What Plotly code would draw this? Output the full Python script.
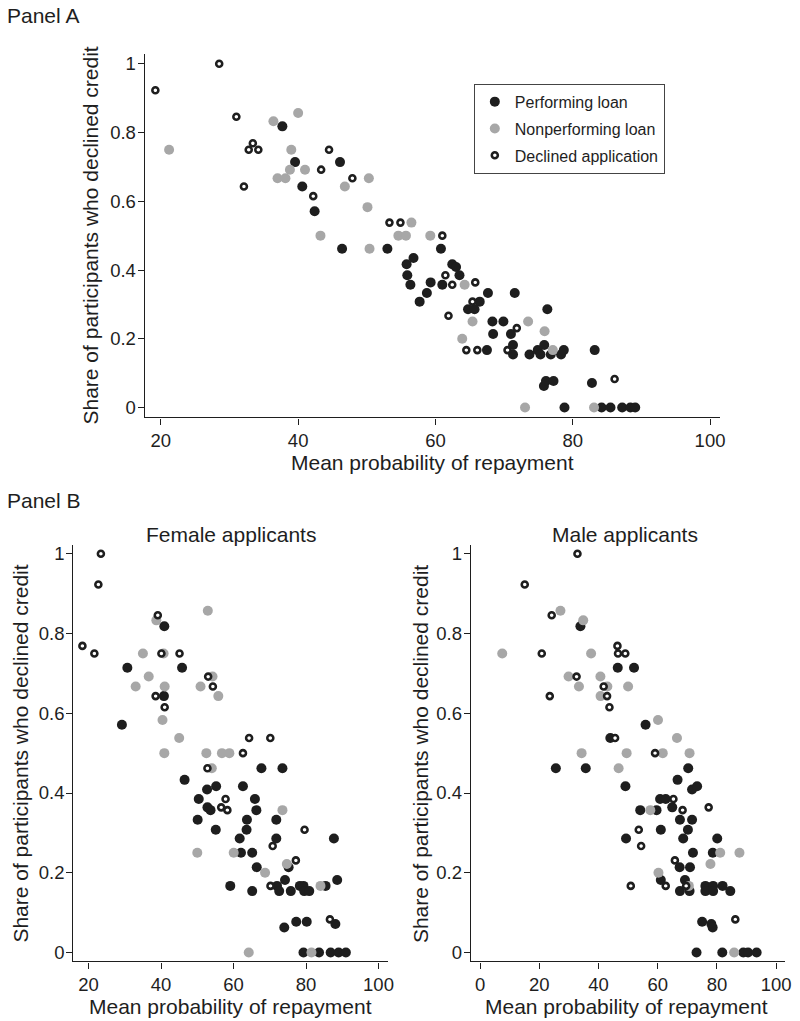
import plotly.graph_objects as go

# ---------------- Panel A (all applicants) ----------------
a_perf_x = [37.7, 39.55, 40.6, 42.4, 46.1, 46.4, 53.0, 60.8, 56.8, 55.8, 55.9, 56.35, 59.3, 58.75, 57.7,
            61.0, 62.45, 63.0, 63.5, 67.65, 66.45, 71.55, 64.75, 65.7, 68.3, 69.9, 76.3, 68.4, 71.0, 67.5,
            71.3, 71.3, 73.7, 74.9, 75.3, 75.85, 76.8, 78.3, 78.7, 83.2, 75.8, 76.1, 77.2, 82.8,
            78.8, 84.2, 85.5, 87.2, 88.4, 89.1]
a_perf_y = [0.818, 0.714, 0.643, 0.571, 0.714, 0.462, 0.462, 0.462, 0.435, 0.417, 0.385, 0.357, 0.364, 0.333, 0.308,
            0.357, 0.417, 0.409, 0.385, 0.333, 0.308, 0.333, 0.286, 0.286, 0.25, 0.25, 0.286, 0.214, 0.214, 0.167,
            0.182, 0.154, 0.154, 0.167, 0.154, 0.182, 0.154, 0.154, 0.167, 0.167, 0.0625, 0.077, 0.077, 0.0714,
            0, 0, 0, 0, 0, 0]

a_nonp_x = [21.2, 36.4, 40.0, 39.0, 38.8, 41.0, 37.0, 38.15, 46.8, 50.3, 50.1, 43.25, 50.4, 56.5, 54.6,
            55.7, 59.25, 64.25, 65.4, 73.5, 63.9, 75.9, 77.1, 73.05, 83.1]
a_nonp_y = [0.75, 0.833, 0.857, 0.75, 0.692, 0.692, 0.667, 0.667, 0.643, 0.667, 0.583, 0.5, 0.462, 0.538, 0.5,
            0.5, 0.5, 0.357, 0.25, 0.25, 0.2, 0.222, 0.167, 0, 0]

a_decl_x = [19.2, 28.5, 31.0, 33.4, 32.8, 34.2, 32.1, 44.5, 43.35, 47.9, 42.2, 53.3, 54.9, 61.0, 61.45,
            62.45, 65.8, 65.4, 61.9, 71.85, 64.5, 66.1, 70.5, 86.1]
a_decl_y = [0.923, 1.0, 0.846, 0.769, 0.75, 0.75, 0.643, 0.75, 0.692, 0.667, 0.615, 0.538, 0.538, 0.5, 0.385,
            0.357, 0.364, 0.308, 0.267, 0.231, 0.167, 0.167, 0.167, 0.083]

# ---------------- Panel B, female applicants ----------------
f_perf_x = [40.9, 30.7, 45.8, 40.8, 29.2, 67.7, 73.5, 46.5, 52.7, 55.2, 62.6, 50.4, 65.9, 52.8, 53.65, 66.3,
            50.1, 63.7, 71.8, 55.1, 63.6, 61.7, 71.8, 87.7, 62.05, 65.15, 66.4, 75.2, 59.1, 72.0, 72.6, 74.2,
            65.15, 75.8, 78.3, 79.3, 79.5, 80.9, 85.4, 88.6, 74.0, 77.3, 80.2, 88.1, 79.3, 83.6, 86.8, 89.0, 91.0]
f_perf_y = [0.818, 0.714, 0.714, 0.643, 0.571, 0.462, 0.462, 0.433, 0.409, 0.417, 0.417, 0.385, 0.385, 0.364, 0.357, 0.357,
            0.333, 0.333, 0.333, 0.308, 0.308, 0.286, 0.286, 0.286, 0.25, 0.25, 0.214, 0.214, 0.167, 0.167, 0.154, 0.182,
            0.154, 0.154, 0.167, 0.167, 0.154, 0.154, 0.167, 0.182, 0.0625, 0.077, 0.077, 0.0714, 0, 0, 0, 0, 0]

f_nonp_x = [52.9, 38.7, 35.0, 40.7, 36.6, 54.2, 33.0, 41.0, 50.9, 55.8, 40.4, 45.0, 40.9, 52.5, 56.8, 58.85,
            54.0, 73.5, 50.0, 60.05, 74.7, 68.7, 84.0, 64.2, 81.5]
f_nonp_y = [0.857, 0.833, 0.75, 0.75, 0.692, 0.692, 0.667, 0.667, 0.667, 0.643, 0.583, 0.538, 0.5, 0.5, 0.5, 0.5,
            0.462, 0.357, 0.25, 0.25, 0.222, 0.2, 0.167, 0, 0]

f_decl_x = [23.4, 22.7, 18.3, 21.6, 39.1, 40.1, 45.1, 53.0, 54.3, 38.5, 41.0, 64.3, 70.15, 62.6, 52.8, 57.8,
            56.6, 58.3, 79.6, 70.8, 77.2, 70.2, 86.6]
f_decl_y = [1.0, 0.923, 0.769, 0.75, 0.846, 0.75, 0.75, 0.692, 0.667, 0.643, 0.615, 0.538, 0.538, 0.5, 0.462, 0.385,
            0.364, 0.357, 0.308, 0.267, 0.231, 0.167, 0.083]

# ---------------- Panel B, male applicants ----------------
m_perf_x = [33.9, 46.5, 52.0, 55.9, 44.0, 25.6, 35.7, 70.3, 66.7, 49.1, 71.6, 73.3, 60.8, 62.7, 54.1, 59.6,
            64.9, 67.5, 71.6, 61.05, 70.2, 49.3, 68.6, 80.1, 71.9, 78.6, 67.4, 70.9, 61.05, 69.2, 67.5, 70.75,
            76.1, 78.7, 76.1, 78.7, 81.9, 84.5, 75.0, 78.1, 78.55, 73.1, 81.8, 88.9, 90.5, 93.4]
m_perf_y = [0.818, 0.714, 0.714, 0.571, 0.538, 0.462, 0.462, 0.462, 0.433, 0.417, 0.409, 0.417, 0.385, 0.385, 0.357, 0.357,
            0.364, 0.333, 0.333, 0.308, 0.308, 0.286, 0.286, 0.286, 0.25, 0.25, 0.214, 0.214, 0.182, 0.182, 0.154, 0.154,
            0.167, 0.167, 0.154, 0.154, 0.167, 0.154, 0.077, 0.0714, 0.0625, 0, 0, 0, 0, 0]

m_nonp_x = [27.15, 34.85, 7.5, 37.5, 29.9, 40.65, 33.4, 43.0, 50.0, 40.7, 60.1, 66.5, 34.3, 49.5, 61.7, 70.75,
            46.8, 57.5, 81.1, 87.6, 77.8, 60.25, 70.5, 85.8]
m_nonp_y = [0.857, 0.833, 0.75, 0.75, 0.692, 0.692, 0.667, 0.667, 0.667, 0.643, 0.583, 0.538, 0.5, 0.5, 0.5, 0.5,
            0.462, 0.357, 0.25, 0.25, 0.222, 0.2, 0.167, 0]

m_decl_x = [32.9, 15.1, 24.2, 20.85, 46.4, 46.6, 49.05, 32.6, 41.75, 23.55, 42.9, 43.7, 45.6, 59.1, 65.3, 68.4,
            77.2, 53.6, 54.4, 65.8, 62.7, 50.9, 69.6, 86.2]
m_decl_y = [1.0, 0.923, 0.846, 0.75, 0.769, 0.75, 0.75, 0.692, 0.667, 0.643, 0.643, 0.615, 0.538, 0.5, 0.385, 0.357,
            0.364, 0.308, 0.267, 0.231, 0.167, 0.167, 0.167, 0.083]

# ---------------- labels / ticks ----------------
series_names = ["Performing loan", "Nonperforming loan", "Declined application"]
y_tickvals = [0, 0.2, 0.4, 0.6, 0.8, 1]
y_ticktext = ["0", "0.2", "0.4", "0.6", "0.8", "1"]
xa_tickvals = [20, 40, 60, 80, 100]
xf_tickvals = [20, 40, 60, 80, 100]
xm_tickvals = [0, 20, 40, 60, 80, 100]
x_title = "Mean probability of repayment"
y_title = "Share of participants who declined credit"

FONT = "Liberation Sans, Arial, Helvetica, sans-serif"
INK = "#1e1e1e"
GRAY = "#a7a7a7"
W, H = 800, 1021

fig = go.Figure()


def add_panel(xs, xa, ya, legend):
    (px, py), (nx, ny), (dx, dy) = xs
    fig.add_trace(go.Scatter(x=px, y=py, mode="markers", name=series_names[0], xaxis=xa, yaxis=ya,
                             legendgroup="g1", showlegend=legend,
                             marker=dict(size=10, color=INK, line=dict(width=0))))
    fig.add_trace(go.Scatter(x=nx, y=ny, mode="markers", name=series_names[1], xaxis=xa, yaxis=ya,
                             legendgroup="g2", showlegend=legend,
                             marker=dict(size=10, color=GRAY, line=dict(width=0))))
    fig.add_trace(go.Scatter(x=dx, y=dy, mode="markers", name=series_names[2], xaxis=xa, yaxis=ya,
                             legendgroup="g3", showlegend=legend,
                             marker=dict(size=6, color="white", line=dict(width=2.6, color=INK))))


add_panel(((a_perf_x, a_perf_y), (a_nonp_x, a_nonp_y), (a_decl_x, a_decl_y)), "x", "y", True)
add_panel(((f_perf_x, f_perf_y), (f_nonp_x, f_nonp_y), (f_decl_x, f_decl_y)), "x2", "y2", False)
add_panel(((m_perf_x, m_perf_y), (m_nonp_x, m_nonp_y), (m_decl_x, m_decl_y)), "x3", "y3", False)


def px_x(p):
    return p / W


def px_y(p):
    return 1 - p / H


axis_common = dict(showline=True, linecolor=INK, linewidth=1.3, ticks="outside", ticklen=6,
                   tickwidth=1.3, tickcolor=INK, showgrid=False, zeroline=False,
                   tickfont=dict(family=FONT, size=18.5, color=INK))
y_extra = dict(ticklabelstandoff=-2)

fig.update_layout(
    width=W, height=H, margin=dict(l=0, r=0, t=0, b=0),
    paper_bgcolor="white", plot_bgcolor="white",
    font=dict(family=FONT, color=INK),
    xaxis=dict(domain=[px_x(146), px_x(726)], range=[17.65, 101.4], anchor="y",
               tickvals=xa_tickvals, **axis_common),
    yaxis=dict(domain=[px_y(416.7), px_y(52)], range=[-0.029, 1.029], anchor="x",
               tickvals=y_tickvals, ticktext=y_ticktext, **axis_common, **y_extra),
    xaxis2=dict(domain=[px_x(74), px_x(391.7)], range=[15.8, 102.7], anchor="y2",
                tickvals=xf_tickvals, **axis_common),
    yaxis2=dict(domain=[px_y(962.3), px_y(545)], range=[-0.0225, 1.021], anchor="x2",
                tickvals=y_tickvals, ticktext=y_ticktext, **axis_common, **y_extra),
    xaxis3=dict(domain=[px_x(475), px_x(791.7)], range=[-3.1, 102.9], anchor="y3",
                tickvals=xm_tickvals, **axis_common),
    yaxis3=dict(domain=[px_y(962.3), px_y(545)], range=[-0.0225, 1.021], anchor="x3",
                tickvals=y_tickvals, ticktext=y_ticktext, **axis_common, **y_extra),
    legend=dict(x=px_x(478), y=px_y(82), xanchor="left", yanchor="top",
                bordercolor="#444444", borderwidth=1, bgcolor="white",
                font=dict(family=FONT, size=16, color=INK),
                traceorder="grouped", tracegroupgap=3),
    showlegend=True,
)


def note(text, x, y, size, xanchor="center", yanchor="middle", angle=0):
    fig.add_annotation(text=text, x=px_x(x), y=px_y(y), xref="paper", yref="paper",
                       xanchor=xanchor, yanchor=yanchor, textangle=angle, showarrow=False,
                       font=dict(family=FONT, size=size, color=INK))


note("Panel A", 5, 14, 21, xanchor="left")
note("Panel B", 5, 500, 21, xanchor="left")
note("Female applicants", 233, 534, 21)
note("Male applicants", 631, 534, 21)
note(x_title, 436, 462, 21)
note(x_title, 233, 1007, 21)
note(x_title, 632, 1007, 21)
note(y_title, 91, 234, 21, angle=-90)
note(y_title, 21, 754, 21, angle=-90)
note(y_title, 425, 754, 21, angle=-90)

fig.write_html("out.html",
               config={"displayModeBar": False},
               post_script="document.body.style.margin='0';document.body.style.padding='0';"
                           "document.body.style.overflow='hidden';")
